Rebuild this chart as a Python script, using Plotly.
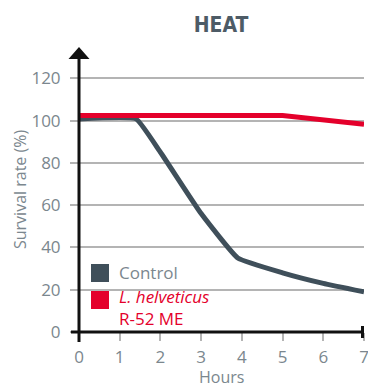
import plotly.graph_objects as go

hours_control = [0, 1.4, 2, 3, 3.9, 5, 6, 7]
control = [100.8, 100.8, 85, 56, 35, 28, 23, 19]
hours_red = [0, 5, 7]
helveticus = [102.4, 102.4, 98.3]
x_ticks = [0, 1, 2, 3, 4, 5, 6, 7]
y_ticks = [0, 20, 40, 60, 80, 100, 120]

CTRL = "#3f4f5a"
RED = "#e4002b"
GRID = "#b4b4b4"
TXT = "#7b878e"

W, H = 368, 387
X0, X1, Y0, Y1 = 79, 364, 47, 332  # plot area in page pixels
L, T = X0, Y0
PW, PH = X1 - X0, Y1 - Y0
R, B = W - L - PW, H - T - PH
ymax = 120 * (332 - 47) / (332 - 78.3)


def px(x):
    return (x - X0) / PW


def py(y):
    return (Y1 - y) / PH


fig = go.Figure()
fig.add_trace(go.Scatter(x=hours_control, y=control, mode="lines",
                         line=dict(color=CTRL, width=5, shape="spline", smoothing=0.35),
                         showlegend=False, hoverinfo="skip"))
fig.add_trace(go.Scatter(x=hours_red, y=helveticus, mode="lines",
                         line=dict(color=RED, width=5),
                         showlegend=False, hoverinfo="skip"))

font = dict(family="Open Sans, sans-serif", size=17, color=TXT)

fig.update_layout(
    width=W, height=H,
    margin=dict(l=L, r=R, t=T, b=B, autoexpand=False),
    paper_bgcolor="white", plot_bgcolor="white",
    title=dict(text="<b>HEAT</b>", x=221 / W, xanchor="center",
               y=1 - 25 / H, yanchor="middle", yref="container",
               automargin=False,
               font=dict(family="Liberation Sans Narrow, DejaVu Sans Condensed, sans-serif",
                         size=21, color="#4d5b66")),
    xaxis=dict(range=[0, 7], tickvals=x_ticks, ticks="outside", ticklen=8,
               tickcolor=GRID, tickwidth=1.5, showgrid=False, zeroline=False,
               showline=False, tickfont=font, ticklabelstandoff=2, automargin=False,
               ticklabeloverflow="allow"),
    yaxis=dict(range=[0, ymax], tickvals=y_ticks, ticks="outside", ticklen=8,
               tickcolor=GRID, tickwidth=1.5, showgrid=True, gridcolor=GRID,
               gridwidth=1.5, zeroline=False, showline=False, tickfont=font,
               ticklabelstandoff=6, automargin=False),
)

shapes = []
# y axis line
shapes.append(dict(type="line", xref="paper", yref="paper", x0=0, x1=0, y0=0, y1=py(58),
                   line=dict(color="#111111", width=3)))
# arrowhead
shapes.append(dict(type="path", xref="paper", yref="paper",
                   path=f"M {-10.5/PW} {py(59)} L {10.5/PW} {py(59)} L 0 {py(47)} Z",
                   fillcolor="#111111", line=dict(width=0)))
# x axis line
shapes.append(dict(type="line", xref="paper", yref="paper", x0=px(71), x1=1, y0=0, y1=0,
                   line=dict(color="#111111", width=3)))
# end tick
shapes.append(dict(type="line", xref="paper", yref="paper", x0=1 - 1.5 / PW, x1=1 - 1.5 / PW,
                   y0=py(326), y1=py(338), line=dict(color="#111111", width=3)))
# zero tick
shapes.append(dict(type="line", xref="paper", yref="paper", x0=0, x1=0, y0=0, y1=py(342),
                   line=dict(color="#111111", width=3)))
# legend squares
shapes.append(dict(type="rect", xref="paper", yref="paper", x0=px(91), x1=px(109), y0=py(282), y1=py(264),
                   fillcolor=CTRL, line=dict(width=0)))
shapes.append(dict(type="rect", xref="paper", yref="paper", x0=px(91), x1=px(109), y0=py(309), y1=py(291),
                   fillcolor=RED, line=dict(width=0)))
fig.update_layout(shapes=shapes)

fig.add_annotation(xref="paper", yref="paper", x=px(117), y=py(272), xanchor="left", yanchor="middle",
                   text="Control", showarrow=False,
                   font=dict(family="Open Sans, sans-serif", size=17, color=TXT))
fig.add_annotation(xref="paper", yref="paper", x=px(117), y=py(307), xanchor="left", yanchor="middle",
                   text="<i>L. helveticus</i><br>R-52 ME", showarrow=False, align="left",
                   font=dict(family="Open Sans, sans-serif", size=17, color=RED))
# axis titles
fig.add_annotation(xref="paper", yref="paper", x=px(221), y=py(377), xanchor="center", yanchor="middle",
                   text="Hours", showarrow=False,
                   font=dict(family="Open Sans, sans-serif", size=16, color=TXT))
fig.add_annotation(xref="paper", yref="paper", x=px(20), y=py(190), xanchor="center", yanchor="middle",
                   text="Survival rate (%)", showarrow=False, textangle=-90,
                   font=dict(family="Open Sans, sans-serif", size=16, color=TXT))

fig.write_html("out.html", config={"displayModeBar": False},
               post_script="document.body.style.margin='0';")
